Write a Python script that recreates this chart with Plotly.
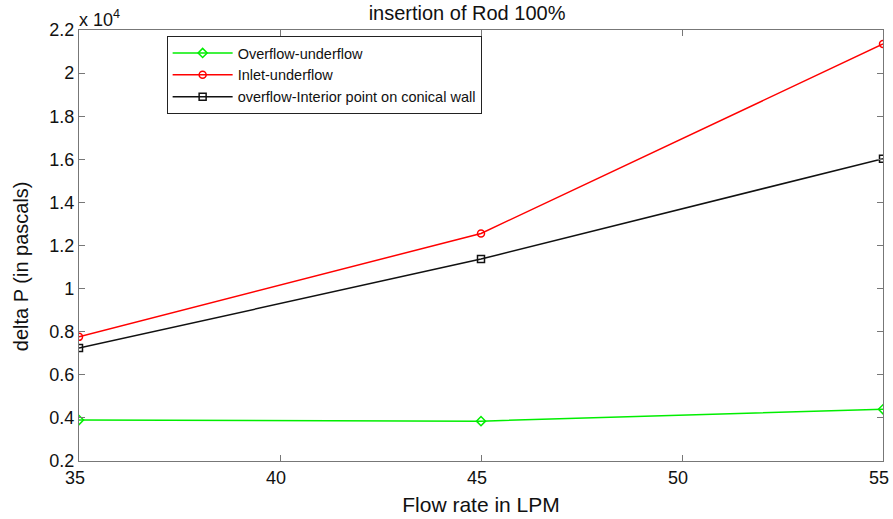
import plotly.graph_objects as go

flow_rate = [35, 45, 55]
overflow_underflow = [3900, 3850, 4400]
inlet_underflow = [7760, 12560, 21350]
overflow_interior = [7240, 11370, 16030]
y_ticks = [2000, 4000, 6000, 8000, 10000, 12000, 14000, 16000, 18000, 20000, 22000]
y_tick_labels = ["0.2", "0.4", "0.6", "0.8", "1", "1.2", "1.4", "1.6", "1.8", "2", "2.2"]
x_ticks = [35, 40, 45, 50, 55]

font = "Liberation Sans, Arial, sans-serif"
fig = go.Figure()
fig.add_trace(go.Scatter(x=flow_rate, y=overflow_underflow, mode="lines+markers",
                         name="Overflow-underflow",
                         line=dict(color="#00ee00", width=1.5),
                         marker=dict(symbol="diamond-open", size=7, color="#00ee00", line=dict(width=1.5))))
fig.add_trace(go.Scatter(x=flow_rate, y=inlet_underflow, mode="lines+markers",
                         name="Inlet-underflow",
                         line=dict(color="#ff0000", width=1.5),
                         marker=dict(symbol="circle-open", size=7, color="#ff0000", line=dict(width=1.5))))
fig.add_trace(go.Scatter(x=flow_rate, y=overflow_interior, mode="lines+markers",
                         name="overflow-Interior point on conical wall",
                         line=dict(color="#111111", width=1.5),
                         marker=dict(symbol="square-open", size=7, color="#111111", line=dict(width=1.5))))

axis_common = dict(showgrid=False, zeroline=False, showline=True, linecolor="#777777", linewidth=1.2,
                   mirror="ticks", ticks="inside", ticklen=6, tickcolor="#777777", automargin=False,
                   ticklabeloverflow="allow",
                   tickfont=dict(family=font, size=18, color="#111111"))
fig.update_layout(
    width=893, height=519,
    margin=dict(l=79, r=10, t=30, b=58),
    paper_bgcolor="white", plot_bgcolor="white",
    font=dict(family=font, color="#111111"),
    title=dict(text="insertion of Rod 100%", x=0.523, xanchor="center", y=0.988, yanchor="top",
               font=dict(family=font, size=20, color="#111111"), automargin=False),
    xaxis=dict(range=[35, 55], tickvals=x_ticks, ticklabelshift=-4,
               title=dict(text="Flow rate in LPM", font=dict(family=font, size=21), standoff=10), **axis_common),
    yaxis=dict(range=[2000, 22000], tickvals=y_ticks, ticktext=y_tick_labels, **axis_common),
    legend=dict(x=0.109, y=0.986, xanchor="left", yanchor="top",
                bgcolor="white", bordercolor="#222222", borderwidth=1,
                font=dict(family=font, size=14.5, color="#111111"),
                tracegroupgap=0, itemwidth=60),
    showlegend=True,
)
fig.add_annotation(text="delta P (in pascals)", textangle=-90, xref="paper", yref="paper",
                   x=0, y=0.452, xanchor="center", yanchor="middle", xshift=-58, showarrow=False,
                   font=dict(family=font, size=20, color="#111111"))
fig.add_annotation(text="x 10<sup>4</sup>", xref="paper", yref="paper", x=-0.003, y=1.0,
                   xanchor="left", yanchor="bottom", showarrow=False, yshift=-2,
                   font=dict(family=font, size=18, color="#111111"))
fig.write_html("out.html", config={"displayModeBar": False},
               post_script="document.body.style.margin='0';document.body.style.overflow='hidden';")
